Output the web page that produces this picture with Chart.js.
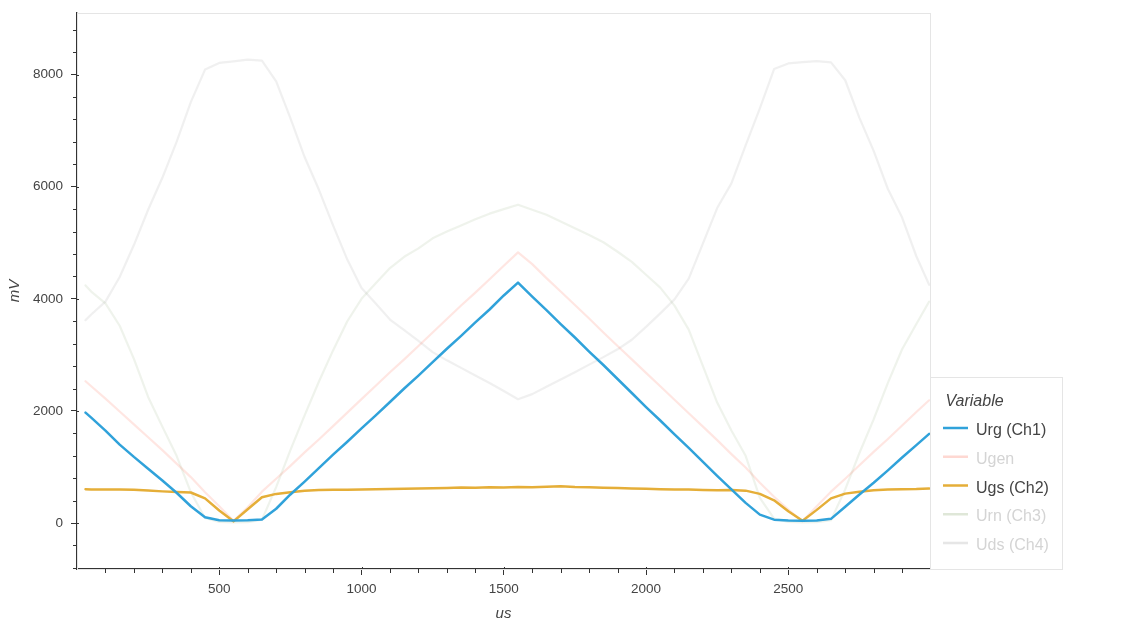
<!DOCTYPE html>
<html>
<head>
<meta charset="utf-8">
<script src="https://cdn.jsdelivr.net/npm/chart.js@4.4.1/dist/chart.umd.min.js"></script>
<style>
  html, body { margin: 0; padding: 0; background: #ffffff; }
  #wrap { width: 1125px; height: 625px; }
</style>
</head>
<body>
<div id="wrap"><canvas id="c" width="1125" height="625"></canvas></div>
<script>
// ---- data (time in us, voltages in mV) ----
const TIME_US = [30,50,100,150,200,250,300,350,400,450,500,550,600,650,700,750,800,850,900,950,
  1000,1050,1100,1150,1200,1250,1300,1350,1400,1450,1500,1550,1600,1650,1700,1750,1800,1850,1900,1950,
  2000,2050,2100,2150,2200,2250,2300,2350,2400,2450,2500,2550,2600,2650,2700,2750,2800,2850,2900,2950,2995];

const URG_CH1 = [1970,1880,1650,1400,1180,970,760,540,300,105,50,45,48,65,255,510,740,980,1220,1450,
  1690,1920,2160,2400,2630,2870,3110,3340,3580,3810,4060,4290,4040,3800,3550,3310,3060,2820,2570,2320,
  2070,1830,1580,1340,1090,840,600,360,150,60,45,40,45,75,290,510,720,940,1170,1390,1590];

const UGEN = [2530,2440,2220,1990,1760,1530,1300,1060,820,550,300,40,280,560,790,1020,1260,1490,1730,1970,
  2210,2450,2690,2920,3160,3400,3640,3880,4110,4350,4590,4830,4620,4370,4130,3890,3650,3400,3160,2920,
  2680,2440,2200,1960,1720,1480,1230,990,720,470,240,30,300,560,790,1030,1270,1500,1740,1980,2190];

const UGS_CH2 = [605,600,600,598,592,580,565,555,545,440,225,30,245,460,520,550,575,588,593,596,
  600,604,608,612,615,620,625,632,628,640,635,645,638,648,655,642,638,630,625,618,
  612,605,600,597,590,585,588,578,520,405,210,40,235,440,525,560,585,598,602,606,618];

const URN_CH3 = [4240,4130,3920,3520,2930,2250,1720,1200,550,90,20,10,15,60,640,1300,1920,2520,3080,3600,
  4000,4280,4550,4750,4900,5080,5200,5310,5420,5520,5600,5680,5590,5500,5380,5260,5140,5010,4840,4660,
  4430,4200,3880,3450,2800,2150,1650,1200,450,80,20,10,15,50,600,1250,1850,2500,3100,3550,3950];

const UDS_CH4 = [3620,3720,3950,4390,4960,5590,6160,6800,7510,8090,8210,8238,8268,8250,7880,7224,6530,5950,5310,4700,
  4195,3915,3630,3440,3250,3050,2903,2768,2632,2500,2357,2210,2300,2430,2560,2690,2826,2960,3100,3270,
  3500,3740,3990,4360,4990,5620,6060,6740,7400,8100,8200,8222,8240,8220,7900,7230,6640,5960,5450,4760,4250];

const SERIES_NAMES = ['Urg (Ch1)', 'Ugen', 'Ugs (Ch2)', 'Urn (Ch3)', 'Uds (Ch4)'];
const SERIES_MUTED = [false, true, false, true, true];
const X_TICKS = [500, 1000, 1500, 2000, 2500];
const Y_TICKS = [0, 2000, 4000, 6000, 8000];
const LEGEND_TITLE = 'Variable';
const X_TITLE = 'us';
const Y_TITLE = 'mV';

// ---- styles ----
const COLORS = ['#30a2da', '#fc4f30', '#e5ae38', '#6d904f', '#8b8b8b'];
const MUTED_ALPHA = [1, 0.14, 1, 0.11, 0.13];
const FONT = '"Liberation Sans", Arial, Helvetica, sans-serif';

function withAlpha(hex, a) {
  const r = parseInt(hex.slice(1,3),16), g = parseInt(hex.slice(3,5),16), b = parseInt(hex.slice(5,7),16);
  return `rgba(${r},${g},${b},${a})`;
}
function pts(ys) { return TIME_US.map((x, i) => ({x: x, y: ys[i]})); }

const SERIES_VALUES = [URG_CH1, UGEN, UGS_CH2, URN_CH3, UDS_CH4];
const DRAW_ORDER = [1, 4, 2, 3, 5]; // higher = further back

const datasets = SERIES_VALUES.map((vals, i) => ({
  label: SERIES_NAMES[i],
  data: pts(vals),
  borderColor: SERIES_MUTED[i] ? withAlpha(COLORS[i], MUTED_ALPHA[i]) : COLORS[i],
  borderWidth: SERIES_MUTED[i] ? 2.2 : 2.5,
  pointRadius: 0,
  tension: 0,
  fill: false,
  borderJoinStyle: 'round',
  borderCapStyle: 'round',
  order: DRAW_ORDER[i]
}));

// plot outline
const outlinePlugin = {
  id: 'outline',
  beforeDatasetsDraw(chart) {
    const {ctx, chartArea: a} = chart;
    ctx.save();
    ctx.strokeStyle = '#e5e5e5';
    ctx.lineWidth = 1;
    ctx.strokeRect(Math.round(a.left) + 0.5, Math.round(a.top) + 0.5, Math.round(a.right - a.left), Math.round(a.bottom - a.top));
    ctx.restore();
  }
};

// minor ticks
const minorTickPlugin = {
  id: 'minorTicks',
  afterDraw(chart) {
    const {ctx} = chart;
    const xs = chart.scales.x, ys = chart.scales.y;
    ctx.save();
    ctx.strokeStyle = '#333';
    ctx.lineWidth = 1;
    ctx.beginPath();
    for (let v = 100; v < xs.max; v += 100) {
      if (X_TICKS.includes(v)) continue;
      const px = Math.round(xs.getPixelForValue(v)) + 0.5;
      ctx.moveTo(px, ys.bottom); ctx.lineTo(px, ys.bottom + 4);
    }
    for (let v = -800; v < ys.max; v += 400) {
      if (Y_TICKS.includes(v)) continue;
      const py = Math.round(ys.getPixelForValue(v)) + 0.5;
      ctx.moveTo(xs.left - 4, py); ctx.lineTo(xs.left, py);
    }
    X_TICKS.forEach(v => {
      const px = Math.round(xs.getPixelForValue(v)) + 0.5;
      ctx.moveTo(px, ys.bottom); ctx.lineTo(px, ys.bottom - 2);
    });
    Y_TICKS.forEach(v => {
      const py = Math.round(ys.getPixelForValue(v)) + 0.5;
      ctx.moveTo(xs.left, py); ctx.lineTo(xs.left + 2, py);
    });
    ctx.stroke();
    ctx.restore();
  }
};

// legend box outside plot
const legendPlugin = {
  id: 'boxLegend',
  afterDraw(chart) {
    const {ctx} = chart;
    const a = chart.chartArea;
    const bx = Math.round(a.right) + 0.5, bw = 132;
    const by = 377.5, bh = Math.round(a.bottom) - 377;
    ctx.save();
    ctx.fillStyle = '#ffffff';
    ctx.fillRect(bx, by, bw, bh);
    ctx.strokeStyle = '#e5e5e5';
    ctx.lineWidth = 1;
    ctx.strokeRect(bx, by, bw, bh);
    ctx.textBaseline = 'alphabetic';
    ctx.textAlign = 'left';
    ctx.fillStyle = '#444444';
    ctx.font = 'italic 16px ' + FONT;
    ctx.fillText(LEGEND_TITLE, bx + 15, 405.5);
    ctx.font = '16px ' + FONT;
    SERIES_NAMES.forEach((name, i) => {
      const base = 435 + i * 28.75;
      const ly = base - 7;
      ctx.strokeStyle = SERIES_MUTED[i] ? withAlpha(COLORS[i], 0.22) : COLORS[i];
      ctx.lineWidth = 2.5;
      ctx.beginPath();
      ctx.moveTo(bx + 12.5, ly); ctx.lineTo(bx + 37.5, ly);
      ctx.stroke();
      ctx.fillStyle = SERIES_MUTED[i] ? '#d4d4d4' : '#444444';
      ctx.fillText(name, bx + 45.5, base);
    });
    ctx.restore();
  }
};

new Chart(document.getElementById('c'), {
  type: 'line',
  data: { datasets: datasets },
  options: {
    responsive: false,
    animation: false,
    devicePixelRatio: 1,
    layout: { padding: { top: 13, right: 195, left: 0, bottom: 0 } },
    plugins: { legend: { display: false }, tooltip: { enabled: false } },
    scales: {
      x: {
        type: 'linear',
        min: 0,
        max: 2998,
        afterBuildTicks(scale) { scale.ticks = X_TICKS.map(v => ({value: v})); },
        afterFit(scale) { scale.height = 56; scale.paddingLeft = 0; scale.paddingRight = 0; },
        grid: { drawOnChartArea: false, drawTicks: true, tickLength: 6, tickColor: '#333', tickWidth: 1 },
        border: { display: true, color: '#333', width: 1.3 },
        ticks: { color: '#444', font: { family: FONT, size: 13.5 }, padding: 6, maxRotation: 0, autoSkip: false,
                 callback: v => String(v) },
        title: { display: true, text: X_TITLE, color: '#444', font: { family: FONT, size: 15, style: 'italic' }, padding: { top: 0, bottom: 2 } }
      },
      y: {
        type: 'linear',
        min: -820,
        max: 9100,
        afterBuildTicks(scale) { scale.ticks = Y_TICKS.map(v => ({value: v})); },
        afterFit(scale) { scale.width = 77; scale.paddingTop = 0; scale.paddingBottom = 0; },
        grid: { drawOnChartArea: false, drawTicks: true, tickLength: 6, tickColor: '#333', tickWidth: 1 },
        border: { display: true, color: '#333', width: 1.3 },
        ticks: { color: '#444', font: { family: FONT, size: 13.5 }, padding: 8, callback: v => String(v) },
        title: { display: true, text: Y_TITLE, color: '#444', font: { family: FONT, size: 15, style: 'italic' }, padding: { top: 6, bottom: 0 } }
      }
    }
  },
  plugins: [outlinePlugin, minorTickPlugin, legendPlugin]
});
</script>
</body>
</html>
